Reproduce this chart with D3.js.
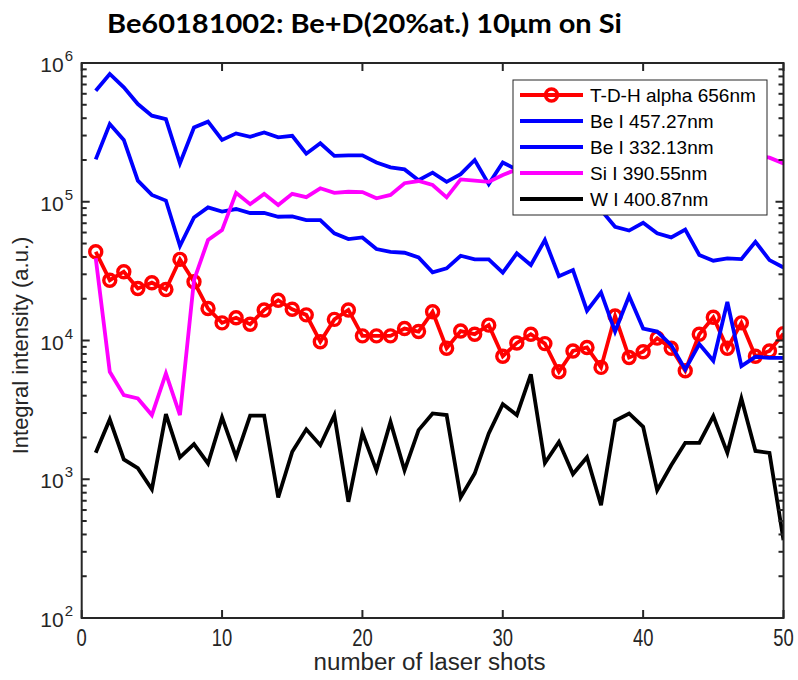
<!DOCTYPE html>
<html>
<head>
<meta charset="utf-8">
<script src="https://cdn.jsdelivr.net/npm/d3@7"></script>
<style>
  body { margin: 0; background: #fff; }
  svg { display: block; }
</style>
</head>
<body>
<div id="chart"></div>
<script>
const WIDTH = 798;
const HEIGHT = 680;
const LEFT = 81.7;
const RIGHT = 783.5;
const TOP = 63;
const BOTTOM = 618;
const AXIS_COLOR = "#262626";
const TICK_FONT = "'Liberation Sans', Arial, sans-serif";

// number of laser shots
const shots = [1, 2, 3, 4, 5, 6, 7, 8, 9, 10, 11, 12, 13, 14, 15, 16, 17, 18, 19, 20,
  21, 22, 23, 24, 25, 26, 27, 28, 29, 30, 31, 32, 33, 34, 35, 36, 37, 38, 39, 40,
  41, 42, 43, 44, 45, 46, 47, 48, 49, 50];

const tdhAlpha = [43600, 27200, 31300, 23700, 26100, 23300, 38400, 26500, 17000, 13400,
  14600, 13100, 16600, 19500, 16800, 15300, 9800, 14200, 16600, 10800,
  10800, 10800, 12200, 11600, 16100, 8800, 11700, 11100, 12900, 7700,
  9600, 11100, 9500, 5950, 8400, 8900, 6400, 15000, 7550, 8300,
  10400, 8800, 6050, 11100, 14700, 8800, 13400, 7700, 8400, 11200];

const be457 = [631000, 834000, 668000, 506000, 417000, 394000, 189000, 343000, 378000, 279000,
  311000, 294000, 316000, 291000, 299000, 222000, 264000, 214000, 216000, 216000,
  192000, 177000, 171000, 143000, 162000, 139000, 158000, 200000, 134000, 192000,
  170000, 160000, 150000, 140000, 125000, 110000, 87000, 66000, 62000, 70600,
  59200, 55300, 63000, 41300, 37600, 39100, 38600, 51500, 38000, 33600];

const be332 = [202000, 363000, 279000, 142000, 112000, 102000, 48000, 77000, 91000, 85000,
  88600, 83000, 83000, 78000, 78500, 73800, 73800, 59200, 53800, 55300,
  45600, 43600, 42900, 39700, 31000, 33100, 40800, 38400, 38400, 30800,
  42500, 35000, 53000, 29100, 32200, 16400, 22200, 11600, 20900, 12200,
  11600, 9270, 6190, 9420, 7140, 19000, 6540, 7630, 7500, 7500];

const si390 = [39100, 5950, 4040, 3820, 2900, 5790, 2900, 27200, 53000, 62500,
  116000, 96000, 114000, 94700, 114000, 108000, 125000, 116000, 118000, 117500,
  106000, 112000, 136000, 141000, 132000, 107600, 145000, 142000, 139000, 156000,
  171000, 175000, 168000, 182000, 176000, 188000, 180000, 194000, 186000, 199000,
  192000, 205000, 198000, 210000, 203000, 214000, 208000, 216000, 208000, 189000];

const w400 = [1550, 2700, 1390, 1200, 845, 2950, 1440, 1790, 1300, 2790,
  1450, 2870, 2870, 740, 1580, 2290, 1760, 2900, 688, 2160,
  1160, 2590, 1160, 2260, 2980, 2900, 740, 1100, 2140, 3480,
  2900, 5700, 1310, 1860, 1090, 1440, 650, 2640, 2980, 2390,
  834, 1260, 1830, 1830, 2850, 1550, 3820, 1600, 1550, 364];

const seriesNames = ["T-D-H alpha 656nm", "Be I 457.27nm", "Be I 332.13nm", "Si I 390.55nm", "W I 400.87nm"];
const seriesColors = ["#ff0000", "#0000ff", "#0000ff", "#ff00ff", "#000000"];
const seriesValues = [tdhAlpha, be457, be332, si390, w400];

const xTicks = [0, 10, 20, 30, 40, 50];
const yDecades = [2, 3, 4, 5, 6];

const svg = d3.select("#chart").append("svg")
  .attr("width", WIDTH)
  .attr("height", HEIGHT);

const x = d3.scaleLinear().domain([0, 50]).range([LEFT, RIGHT]);
const y = d3.scaleLog().domain([1e2, 1e6]).range([BOTTOM, TOP]);

svg.append("defs").append("clipPath").attr("id", "plotclip")
  .append("rect")
  .attr("x", LEFT).attr("y", TOP)
  .attr("width", RIGHT - LEFT).attr("height", BOTTOM - TOP);

// series
const line = d3.line()
  .x((d, i) => x(shots[i]))
  .y(d => y(d));

const plot = svg.append("g").attr("clip-path", "url(#plotclip)");
seriesValues.forEach((vals, k) => {
  plot.append("path")
    .datum(vals)
    .attr("d", line)
    .attr("fill", "none")
    .attr("stroke", seriesColors[k])
    .attr("stroke-width", 3.8)
    .attr("stroke-linejoin", "miter")
    .attr("stroke-miterlimit", 4);
  if (k === 0) {
    plot.selectAll(null)
      .data(vals)
      .join("circle")
      .attr("cx", (d, i) => x(shots[i]))
      .attr("cy", d => y(d))
      .attr("r", 6)
      .attr("fill", "none")
      .attr("stroke", seriesColors[0])
      .attr("stroke-width", 3.4);
  }
});

// axes box
const axes = svg.append("g");
axes.append("rect")
  .attr("x", LEFT).attr("y", TOP)
  .attr("width", RIGHT - LEFT).attr("height", BOTTOM - TOP)
  .attr("fill", "none")
  .attr("stroke", AXIS_COLOR)
  .attr("stroke-width", 2);

// x ticks top and bottom, labels narrowed like the original
const xMajor = 8;
xTicks.forEach(t => {
  axes.append("line")
    .attr("x1", x(t)).attr("x2", x(t))
    .attr("y1", BOTTOM).attr("y2", BOTTOM - xMajor)
    .attr("stroke", AXIS_COLOR).attr("stroke-width", 2);
  axes.append("line")
    .attr("x1", x(t)).attr("x2", x(t))
    .attr("y1", TOP).attr("y2", TOP + xMajor)
    .attr("stroke", AXIS_COLOR).attr("stroke-width", 2);
  axes.append("text")
    .attr("transform", `translate(${x(t)},${BOTTOM + 28}) scale(0.8,1)`)
    .attr("text-anchor", "middle")
    .attr("font-family", TICK_FONT)
    .attr("font-size", 23)
    .attr("fill", AXIS_COLOR)
    .text(t);
});

// y ticks (log) left and right
yDecades.forEach(p => {
  const v = Math.pow(10, p);
  [LEFT, RIGHT].forEach(ax => {
    const dir = ax === LEFT ? 1 : -1;
    axes.append("line")
      .attr("x1", ax).attr("x2", ax + dir * 8)
      .attr("y1", y(v)).attr("y2", y(v))
      .attr("stroke", AXIS_COLOR).attr("stroke-width", 2);
    if (p < 6) {
      for (let m = 2; m <= 9; m++) {
        axes.append("line")
          .attr("x1", ax).attr("x2", ax + dir * 5)
          .attr("y1", y(m * v)).attr("y2", y(m * v))
          .attr("stroke", AXIS_COLOR).attr("stroke-width", 2);
      }
    }
  });
  axes.append("text")
    .attr("x", LEFT - 18)
    .attr("y", y(v) + 9)
    .attr("text-anchor", "end")
    .attr("font-family", TICK_FONT)
    .attr("font-size", 21)
    .attr("fill", AXIS_COLOR)
    .text("10");
  axes.append("text")
    .attr("x", LEFT - 17)
    .attr("y", y(v) - 2)
    .attr("font-family", TICK_FONT)
    .attr("font-size", 15)
    .attr("fill", AXIS_COLOR)
    .text(p);
});

// axis labels
svg.append("text")
  .attr("x", (LEFT + RIGHT) / 2 - 3)
  .attr("y", 670)
  .attr("text-anchor", "middle")
  .attr("font-family", TICK_FONT)
  .attr("font-size", 23)
  .attr("textLength", 232)
  .attr("lengthAdjust", "spacingAndGlyphs")
  .attr("fill", AXIS_COLOR)
  .text("number of laser shots");

svg.append("text")
  .attr("transform", `translate(28,${(TOP + BOTTOM) / 2 + 5}) rotate(-90)`)
  .attr("text-anchor", "middle")
  .attr("font-family", TICK_FONT)
  .attr("font-size", 22)
  .attr("fill", AXIS_COLOR)
  .text("Integral intensity (a.u.)");

// title
svg.append("text")
  .attr("x", 107)
  .attr("y", 33)
  .attr("font-family", "Lato, 'Open Sans', sans-serif")
  .attr("font-weight", "bold")
  .attr("font-size", 27)
  .attr("textLength", 515)
  .attr("lengthAdjust", "spacingAndGlyphs")
  .attr("fill", "#000")
  .text("Be60181002: Be+D(20%at.) 10μm on Si");

// legend
const LEG_X = 513, LEG_Y = 80, LEG_W = 254, LEG_H = 135;
const legend = svg.append("g");
legend.append("rect")
  .attr("x", LEG_X).attr("y", LEG_Y)
  .attr("width", LEG_W).attr("height", LEG_H)
  .attr("fill", "#fff")
  .attr("stroke", "#262626")
  .attr("stroke-width", 1);

seriesNames.forEach((name, k) => {
  const ry = 95 + k * 26;
  legend.append("line")
    .attr("x1", 520).attr("x2", 583)
    .attr("y1", ry).attr("y2", ry)
    .attr("stroke", seriesColors[k])
    .attr("stroke-width", 3.8);
  if (k === 0) {
    legend.append("circle")
      .attr("cx", 551.5).attr("cy", ry)
      .attr("r", 6)
      .attr("fill", "none")
      .attr("stroke", seriesColors[0])
      .attr("stroke-width", 3.4);
  }
  legend.append("text")
    .attr("x", 590)
    .attr("y", ry + 7)
    .attr("font-family", TICK_FONT)
    .attr("font-size", 19)
    .attr("fill", "#000")
    .text(name);
});
</script>
</body>
</html>
